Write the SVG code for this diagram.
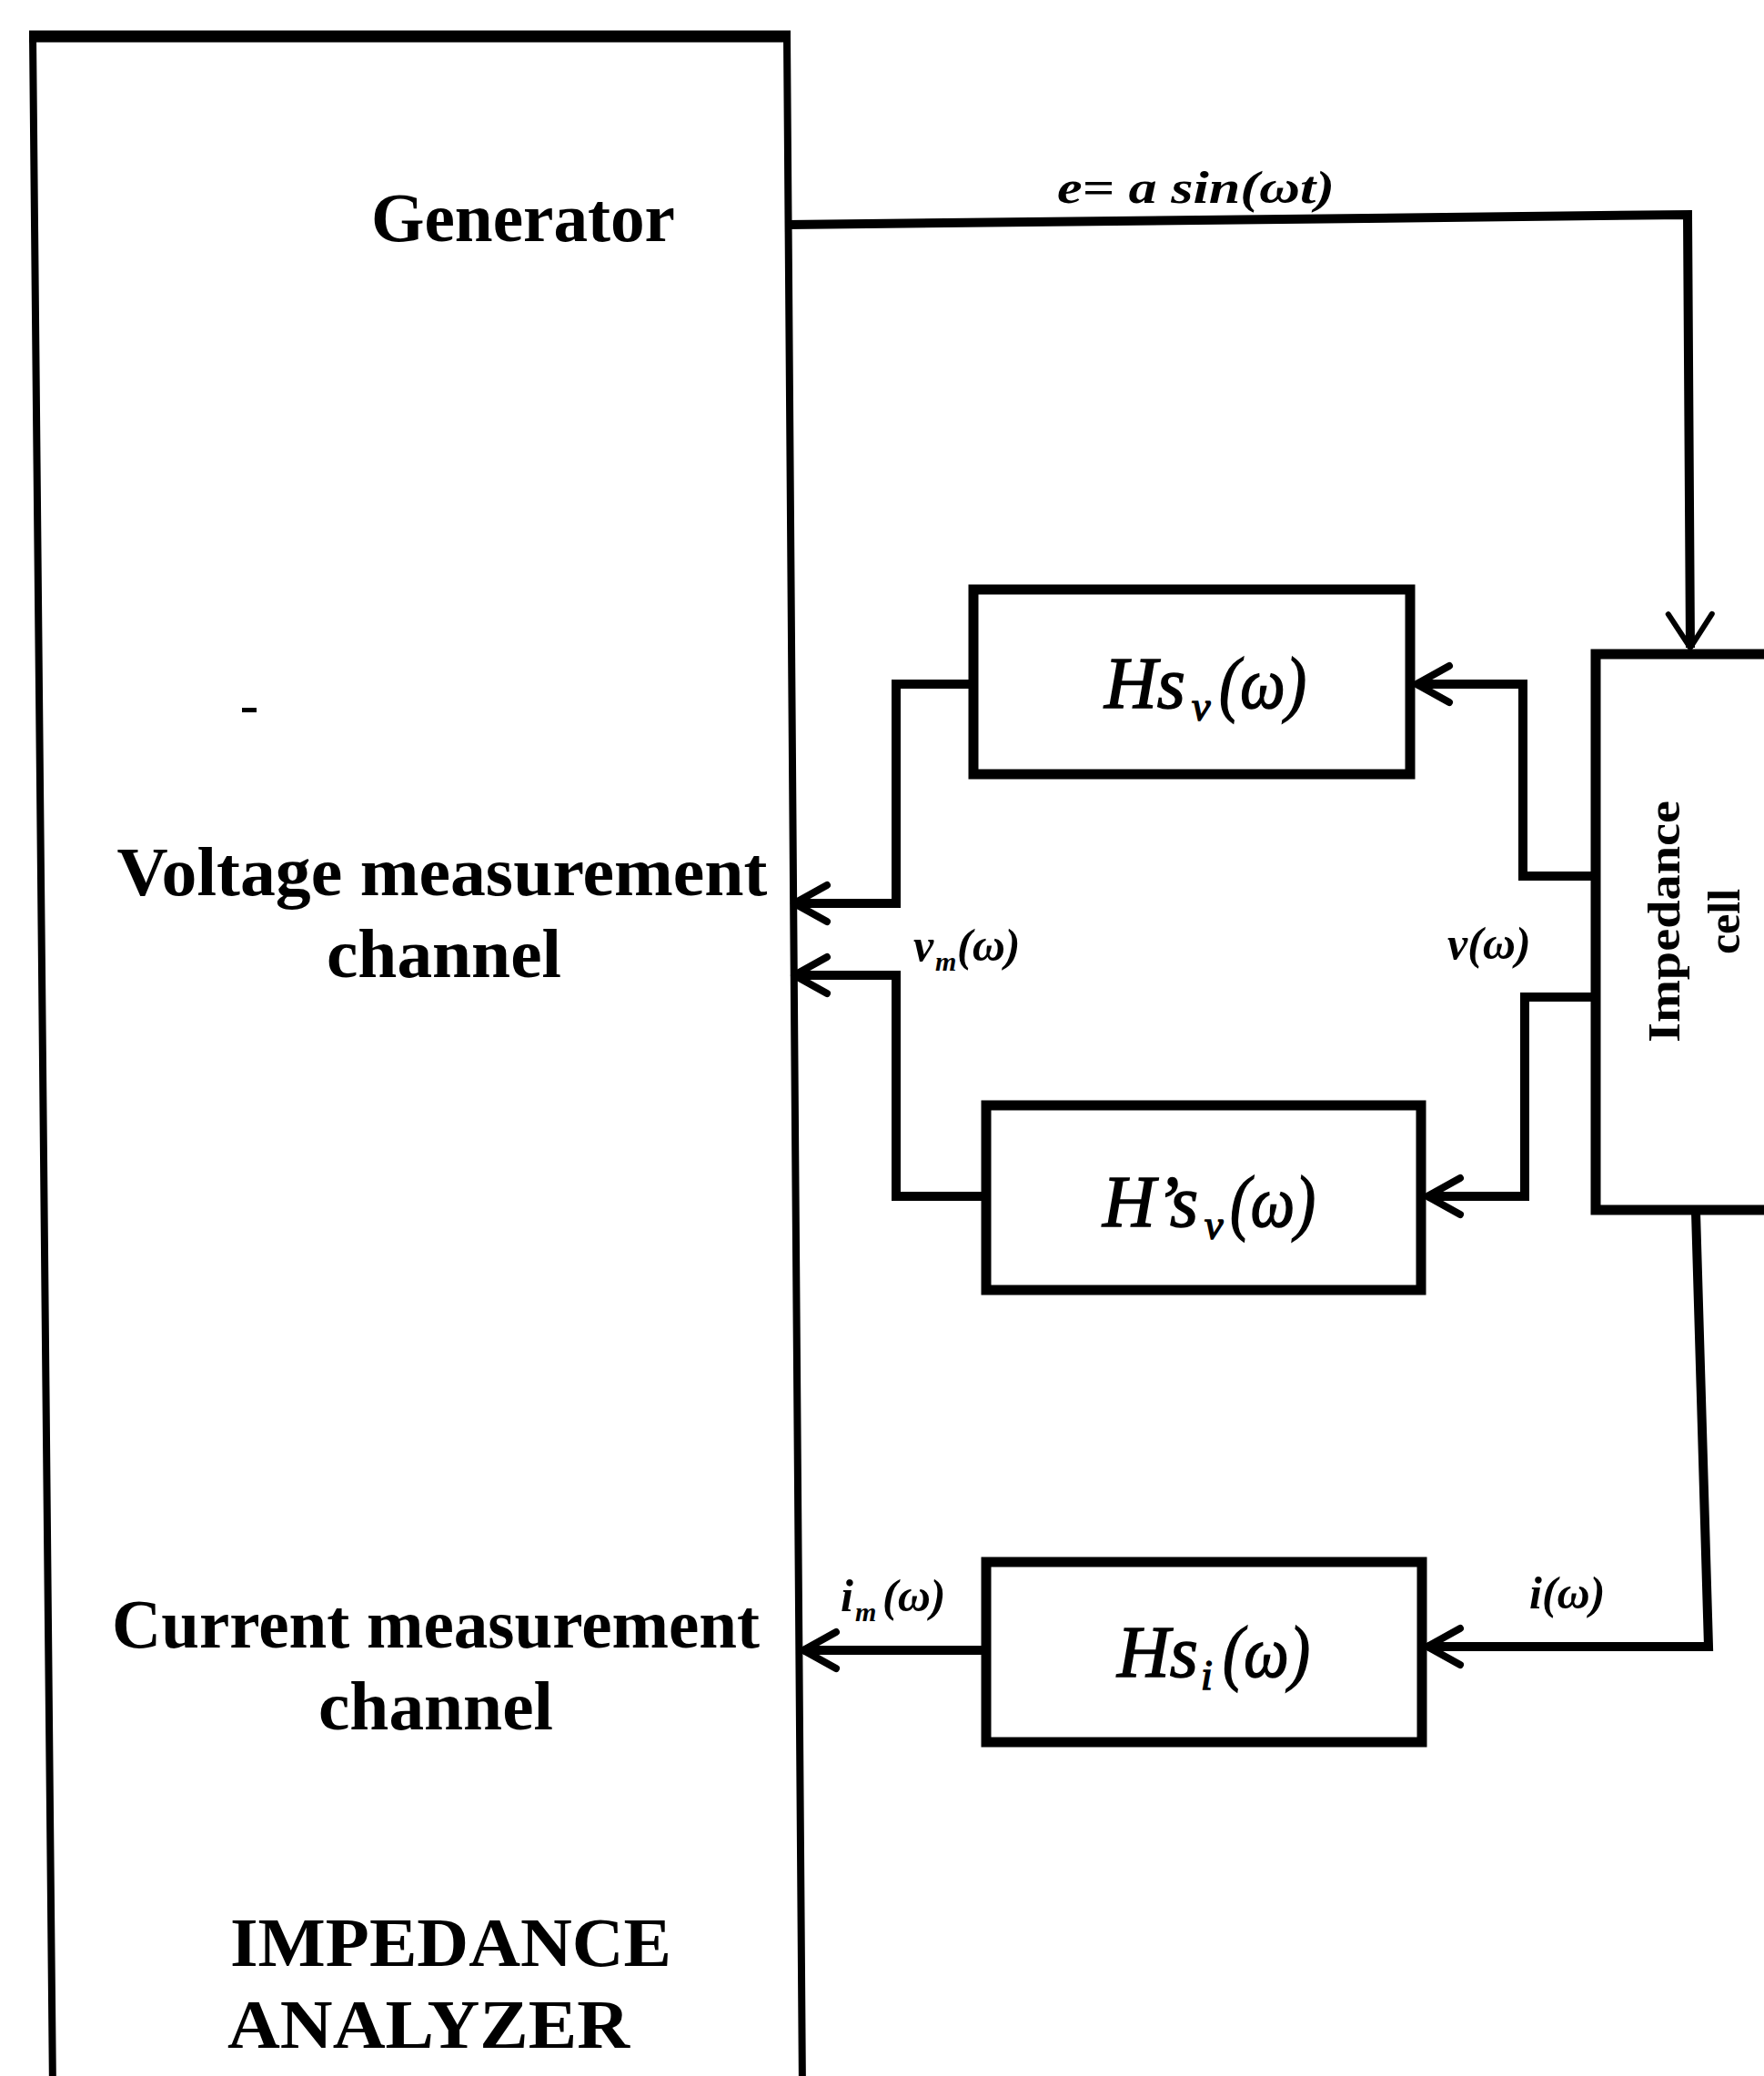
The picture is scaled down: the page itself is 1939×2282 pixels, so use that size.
<svg xmlns="http://www.w3.org/2000/svg" width="1939" height="2282" viewBox="0 0 1939 2282">
<style>
.box{fill:#fff;stroke:#000;stroke-width:11}
.ln{fill:none;stroke:#000;stroke-width:10;stroke-linejoin:miter}
.big{font-family:"Liberation Serif","Times New Roman",serif;font-weight:bold;font-size:77px;fill:#000}
.hs{font-family:"Liberation Serif","Times New Roman",serif;font-style:italic;font-size:80px;fill:#000;stroke:#000;stroke-width:1.5}
.sub{font-size:46px}
.lbl{font-family:"Liberation Serif","Times New Roman",serif;font-style:italic;font-weight:bold;font-size:50px;fill:#000}
.lsub{font-size:30px}
</style>
<defs>
<marker id="arr" markerUnits="userSpaceOnUse" viewBox="-44 -26 50 52" refX="0" refY="0" markerWidth="50" markerHeight="52" orient="auto">
<path d="M-36,-20 L0,0 L-36,20" fill="none" stroke="#000" stroke-width="8" stroke-linejoin="round" stroke-linecap="round"/>
</marker>
<marker id="arrd" markerUnits="userSpaceOnUse" viewBox="-44 -30 50 60" refX="0" refY="0" markerWidth="50" markerHeight="60" orient="auto">
<path d="M-37,-24 L0,0 L-37,24" fill="none" stroke="#000" stroke-width="6" stroke-linejoin="round" stroke-linecap="round"/>
</marker>
</defs>
<rect width="1939" height="2282" fill="#fff"/>

<g id="analyzer">
<polygon points="36,40 865,40 882,2300 58,2300" fill="#fff" stroke="#000" stroke-width="8"/>
<line x1="32" y1="40" x2="869" y2="40" stroke="#000" stroke-width="13"/>
<rect x="266" y="778" width="16" height="5" fill="#000"/>
<text class="big" x="575" y="265" text-anchor="middle" textLength="334" lengthAdjust="spacingAndGlyphs">Generator</text>
<text class="big" x="486" y="984" text-anchor="middle" textLength="715" lengthAdjust="spacingAndGlyphs">Voltage measurement</text>
<text class="big" x="488" y="1074" text-anchor="middle" textLength="258" lengthAdjust="spacingAndGlyphs">channel</text>
<text class="big" x="479" y="1811" text-anchor="middle" textLength="712" lengthAdjust="spacingAndGlyphs">Current measurement</text>
<text class="big" x="479" y="1901" text-anchor="middle" textLength="258" lengthAdjust="spacingAndGlyphs">channel</text>
<text class="big" x="253" y="2161" textLength="485" lengthAdjust="spacingAndGlyphs">IMPEDANCE</text>
<text class="big" x="250" y="2251" textLength="442" lengthAdjust="spacingAndGlyphs">ANALYZER</text>
</g>

<g id="connectors">
<path class="ln" d="M866,247 L1855,236 L1858,712" marker-end="url(#arrd)"/>
<path class="ln" d="M1753,963 L1674,963 L1674,752 L1557,752" marker-end="url(#arr)"/>
<path class="ln" d="M1753,1096 L1676,1096 L1676,1315 L1569,1315" marker-end="url(#arr)"/>
<path class="ln" d="M1065,752 L985,752 L985,993 L873,993" marker-end="url(#arr)"/>
<path class="ln" d="M1079,1315 L985,1315 L985,1072 L873,1072" marker-end="url(#arr)"/>
<path class="ln" d="M1864,1332 L1878,1810 L1569,1810" marker-end="url(#arr)"/>
<path class="ln" d="M1079,1814 L883,1814" marker-end="url(#arr)"/>
<text class="lbl" x="1162" y="223" textLength="305" lengthAdjust="spacingAndGlyphs">e= a sin(ωt)</text>
<text class="lbl" x="1004" y="1056" font-size="54">v<tspan class="lsub" x="1028" y="1067">m</tspan><tspan x="1052" y="1056">(ω)</tspan></text>
<text class="lbl" x="1591" y="1054" font-size="54">v(ω)</text>
<text class="lbl" x="924" y="1771" font-size="54">i<tspan class="lsub" x="940" y="1782">m</tspan><tspan x="970" y="1771">(ω)</tspan></text>
<text class="lbl" x="1681" y="1768" font-size="54">i(ω)</text>
</g>

<g id="hsv">
<rect class="box" x="1070" y="648" width="480" height="203"/>
<text class="hs" x="1214" y="778">Hs<tspan class="sub" x="1310" y="792">v</tspan><tspan x="1340" y="778" textLength="96" lengthAdjust="spacingAndGlyphs">(ω)</tspan></text>
</g>

<g id="hsv2">
<rect class="box" x="1084" y="1215" width="478" height="203"/>
<text class="hs" x="1212" y="1348">H’s<tspan class="sub" x="1324" y="1362">v</tspan><tspan x="1352" y="1348" textLength="94" lengthAdjust="spacingAndGlyphs">(ω)</tspan></text>
</g>

<g id="hsi">
<rect class="box" x="1084" y="1717" width="479" height="198"/>
<text class="hs" x="1228" y="1843">Hs<tspan class="sub" x="1320" y="1857">i</tspan><tspan x="1344" y="1843" textLength="96" lengthAdjust="spacingAndGlyphs">(ω)</tspan></text>
</g>

<g id="cell">
<rect class="box" x="1754" y="719" width="250" height="611"/>
<text class="lbl" transform="translate(1846,1013) rotate(-90)" text-anchor="middle" font-size="50" textLength="266" lengthAdjust="spacingAndGlyphs" style="font-style:normal">Impedance</text>
<text class="lbl" transform="translate(1912,1013) rotate(-90)" text-anchor="middle" font-size="50" style="font-style:normal">cell</text>
</g>
</svg>
